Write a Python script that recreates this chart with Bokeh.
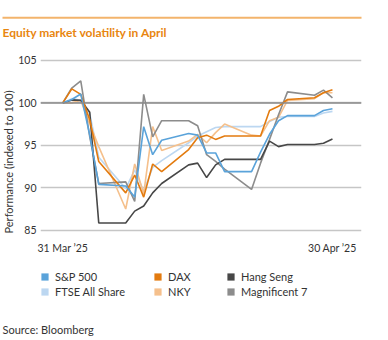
import pandas as pd
from bokeh.plotting import figure
from bokeh.models import (Range1d, FixedTicker, Span, Label, Legend, LegendItem,
                          BoxAnnotation, Title)
from bokeh.layouts import column, row
from bokeh.embed import file_html
from bokeh.resources import INLINE

# ---- data (indexed to 100 on 31 Mar 2025) ----
dates = ["2025-03-31", "2025-04-01", "2025-04-02", "2025-04-03", "2025-04-04",
         "2025-04-07", "2025-04-08", "2025-04-09", "2025-04-10", "2025-04-11",
         "2025-04-14", "2025-04-15", "2025-04-16", "2025-04-17", "2025-04-18",
         "2025-04-21", "2025-04-22", "2025-04-23", "2025-04-24", "2025-04-25",
         "2025-04-28", "2025-04-29", "2025-04-30"]

sp500 = [100, 100.4, 101.05, 96.2, 90.4, 90.2, 88.9, 97.2, 93.9, 95.6, 96.4, 96.2,
         94.1, 94.1, 91.9, 91.9, 94.2, 96.3, 97.9, 98.5, 98.5, 99.1, 99.3]
ftse = [100, 100.5, 100.3, 98.7, 93.6, 89.9, 92.1, 89.6, 92.4, 93.2, 95.3, 96.1,
        96.6, 97.1, 97.2, 97.2, 97.2, 97.8, 98.3, 98.4, 98.4, 98.8, 99.0]
dax = [100, 101.65, 101.0, 98.0, 93.1, 89.4, 91.5, 88.9, 92.8, 91.9, 94.5, 95.9,
       96.2, 95.7, 96.1, 96.1, 96.1, 99.1, 99.6, 100.4, 100.6, 101.2, 101.55]
nky = [100, 100.0, 100.3, 97.5, 94.85, 87.5, 92.8, 89.3, 97.2, 94.4, 95.5, 96.3,
       95.3, 96.5, 97.5, 96.2, 96.1, 97.9, 98.3, 100.3, 100.5, 101.2, 101.2]
hsi = [100, 100.35, 100.3, 98.9, 85.85, 85.85, 87.25, 87.85, 89.4, 90.5, 92.7, 92.9,
       91.2, 92.7, 93.35, 93.35, 93.35, 95.5, 94.85, 95.1, 95.1, 95.25, 95.75]
mag7 = [100, 101.75, 102.6, 96.0, 90.5, 90.7, 88.4, 101.0, 96.0, 97.9, 97.9, 97.3,
        93.9, 93.1, 92.2, 89.8, 92.9, 95.7, 98.6, 101.3, 100.9, 101.5, 100.6]

series_names = ["S&P 500", "FTSE All Share", "DAX", "NKY", "Hang Seng", "Magnificent 7"]
series_values = [sp500, ftse, dax, nky, hsi, mag7]
series_colors = ["#5AA3DA", "#BCD7F1", "#E37B0F", "#F5C08C", "#474747", "#8C8C8C"]

y_ticks = [85, 90, 95, 100, 105]
x_tick_labels = {0: "31 Mar \u201925", 30: "30 Apr \u201925"}

title_text = "Equity market volatility in April"
y_label_text = "Performance (indexed to 100)"
source_text = "Source: Bloomberg"

base = pd.Timestamp(dates[0])
days = [(pd.Timestamp(d) - base).days for d in dates]

FONT = "Lato"
TXT = "#333333"
W = 388
NAN = float("nan")


def bare(height):
    f = figure(width=W, height=height, output_backend="svg", toolbar_location=None,
               min_border=0, x_axis_type=None, y_axis_type=None,
               x_range=Range1d(0, W), y_range=Range1d(0, height))
    f.outline_line_color = None
    f.grid.visible = False
    return f


# ---- top strip: orange rule + title ----
TOP_H = 44
top = bare(TOP_H)
top.add_layout(BoxAnnotation(left=2, right=361, bottom=TOP_H - 18.3, top=TOP_H - 16.3,
                             left_units="screen", right_units="screen",
                             bottom_units="screen", top_units="screen",
                             fill_color="#F3B46C", fill_alpha=1, line_color=None))
top.add_layout(Label(x=2, y=TOP_H - 32, x_units="screen", y_units="screen",
                     text=title_text, text_font=FONT, text_font_style="bold",
                     text_font_size="12px", text_color="#E8860F",
                     text_baseline="middle"))

# ---- main chart ----
p = figure(width=W, height=212, output_backend="svg", toolbar_location=None,
           x_range=Range1d(-2.48, 33.23), y_range=Range1d(84.73, 105.23),
           min_border_left=40, min_border_right=27, min_border_top=14,
           min_border_bottom=22)
p.outline_line_color = None
p.xgrid.visible = False
p.ygrid.ticker = FixedTicker(ticks=y_ticks)
p.ygrid.grid_line_color = "#C6C6C6"
p.ygrid.grid_line_width = 1.3

for ax in (p.xaxis[0], p.yaxis[0]):
    ax.axis_line_color = None
    ax.major_tick_line_color = None
    ax.minor_tick_line_color = None
    ax.major_tick_out = 0
    ax.major_tick_in = 0
    ax.major_label_text_font = FONT
    ax.major_label_text_font_size = "10.5px"
    ax.major_label_text_color = TXT

p.yaxis.ticker = FixedTicker(ticks=y_ticks)
p.yaxis.major_label_standoff = 4
p.xaxis.ticker = FixedTicker(ticks=list(x_tick_labels.keys()))
p.xaxis.major_label_overrides = x_tick_labels
p.xaxis.major_label_standoff = 9

p.add_layout(Title(text=y_label_text, align="left", offset=-1, standoff=0,
                   vertical_align="middle", text_font=FONT, text_font_size="11px",
                   text_font_style="normal", text_color=TXT), "left")

p.add_layout(Span(location=100, dimension="width", line_color="#8A8A8A", line_width=1.5))

draw_order = [1, 3, 5, 4, 2, 0]
for i in draw_order:
    p.line(days, series_values[i], line_color=series_colors[i], line_width=1.6)

# ---- bottom strip: legend + source ----
BOT_H = 84
bot = bare(BOT_H)
swatch = {}
for name, col in zip(series_names, series_colors):
    # invisible placeholder renderer: only its legend swatch is shown
    swatch[name] = bot.quad(left=[NAN], right=[NAN], top=[NAN], bottom=[NAN],
                            fill_color=col, line_color=None)

legend_columns = [(40, ["S&P 500", "FTSE All Share"]),
                  (153, ["DAX", "NKY"]),
                  (226, ["Hang Seng", "Magnificent 7"])]
for xoff, names in legend_columns:
    lg = Legend(items=[LegendItem(label=n, renderers=[swatch[n]]) for n in names],
                location=(xoff, BOT_H - 41.5), orientation="vertical",
                background_fill_alpha=0, border_line_color=None,
                padding=0, margin=0, spacing=2, glyph_width=9, glyph_height=9,
                label_height=13, label_standoff=6, label_text_font=FONT,
                label_text_font_size="11px", label_text_color=TXT)
    bot.add_layout(lg)

bot.add_layout(Label(x=2, y=BOT_H - 73, x_units="screen", y_units="screen",
                     text=source_text, text_baseline="middle", text_font=FONT,
                     text_font_size="11px", text_color=TXT))

layout = column(row(top), row(p), row(bot), spacing=0)
open("out.html", "w").write(file_html(layout, INLINE))
